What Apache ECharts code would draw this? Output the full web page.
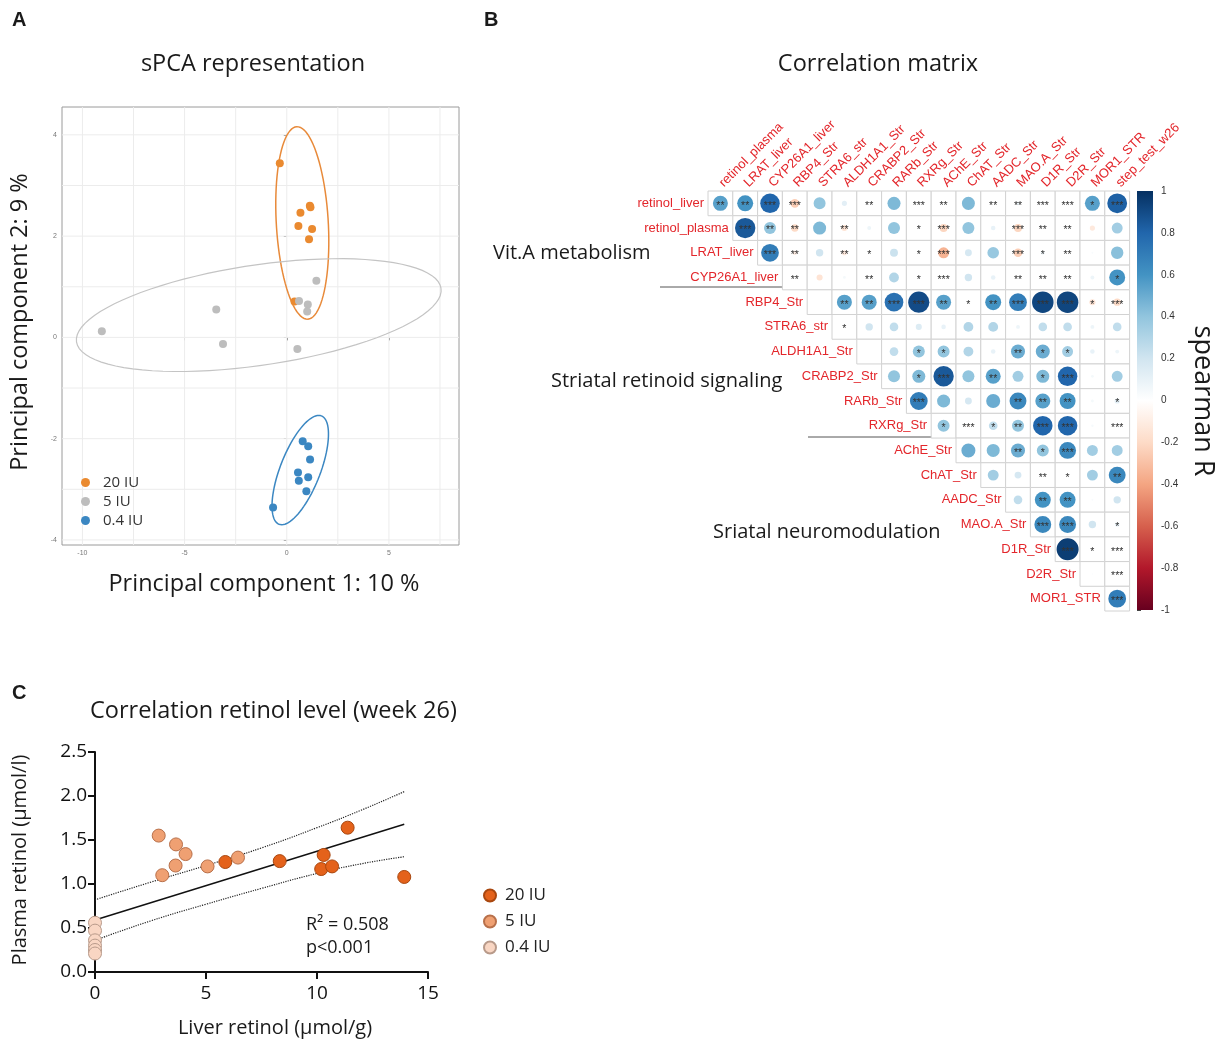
<!DOCTYPE html>
<html>
<head>
<meta charset="utf-8">
<title>sPCA / correlation matrix / retinol</title>
<script src="https://cdn.jsdelivr.net/npm/echarts@6/dist/echarts.min.js"></script>
<style>
  html, body { margin: 0; padding: 0; background: #fff; }
  #chart { width: 1220px; height: 1044px; }
</style>
</head>
<body>
<div id="chart"></div>
<script>
// ---------- panel A : sPCA scores ----------
const pcaHigh = [[-0.34,3.44],[1.13,2.60],[1.16,2.57],[0.67,2.46],[0.57,2.20],[1.24,2.14],[1.09,1.94],[0.38,0.71]];
const pcaMid  = [[1.45,1.12],[0.60,0.72],[1.03,0.65],[1.00,0.51],[-3.45,0.55],[-9.05,0.12],[-3.12,-0.13],[0.52,-0.23]];
const pcaLow  = [[0.78,-2.05],[1.05,-2.15],[1.14,-2.41],[0.55,-2.67],[0.59,-2.83],[1.05,-2.76],[0.96,-3.04],[-0.67,-3.36]];
// confidence ellipses: centre, major and minor semi-axis vectors (data units)
const ellipseCenter = [[0.76,2.26],[-1.37,0.44],[0.66,-2.62]];
const ellipseMajor  = [[0.27,-1.90],[8.92,0.53],[1.04,1.07]];
const ellipseMinor  = [[1.27,0.03],[0.36,-0.98],[0.91,-0.145]];
const pcaGridX  = [-10,-7.5,-5,-2.5,0,2.5,5,7.5];
const pcaGridY  = [-4,-3,-2,-1,0,1,2,3,4];
const pcaTicksX = [-10,-5,0,5];
const pcaTicksY = [-4,-2,0,2,4];

// ---------- panel B : correlation matrix ----------
const rowNames = ['retinol_liver','retinol_plasma','LRAT_liver','CYP26A1_liver','RBP4_Str','STRA6_str','ALDH1A1_Str',
  'CRABP2_Str','RARb_Str','RXRg_Str','AChE_Str','ChAT_Str','AADC_Str','MAO.A_Str','D1R_Str','D2R_Str','MOR1_STR'];
const colNames = ['retinol_plasma','LRAT_liver','CYP26A1_liver','RBP4_Str','STRA6_str','ALDH1A1_Str','CRABP2_Str',
  'RARb_Str','RXRg_Str','AChE_Str','ChAT_Str','AADC_Str','MAO.A_Str','D1R_Str','D2R_Str','MOR1_STR','step_test_w26'];
// row i holds columns i..16
const corrRows = [
  [0.55,0.6,0.8,-0.25,0.4,0.12,0,0.45,0,0,0.45,0,0.08,0,0,0.55,0.82],
  [0.85,0.4,-0.2,0.45,-0.15,0.08,0.4,0,-0.22,0.4,0.1,-0.22,0,0,-0.12,0.35],
  [0.7,-0.1,0.2,-0.12,0,0.22,0,-0.35,0.18,0.38,-0.25,0.08,0,0.03,0.42],
  [0,-0.15,0.05,0,0.3,0,0,0.2,0.1,0,0,0,0.08,0.6],
  [0,0.55,0.55,0.75,0.9,0.55,0,0.6,0.7,0.92,0.92,-0.15,-0.2],
  [0,0.2,0.25,0.15,0.1,0.3,0.3,0.08,0.25,0.25,0.08,0.25],
  [0,0.25,0.4,0.4,0.3,0.1,0.5,0.5,0.35,0.1,0.08],
  [0.4,0.45,0.85,0.4,0.55,0.35,0.45,0.8,0.05,0.35],
  [0.7,0.45,0.18,0.5,0.65,0.55,0.6,0.05,0.12],
  [0.4,-0.05,0.25,0.4,0.8,0.8,0.04,0],
  [0.5,0.45,0.5,0.4,0.65,0.35,0.35],
  [0.35,0.18,0,0,0.35,0.65],
  [0.25,0.6,0.6,0.03,0.2],
  [0.65,0.65,0.2,0.1],
  [0.95,0,0],
  [0.02,0],
  [0.7]
];
// number of significance stars per cell
const starRows = [
  [2,2,3,3,0,0,2,0,3,2,0,2,2,3,3,1,3],
  [3,2,2,0,2,0,0,1,3,0,0,3,2,2,0,0],
  [3,2,0,2,1,0,1,3,0,0,3,1,2,0,0],
  [2,0,0,2,0,1,3,0,0,2,2,2,0,1],
  [0,2,2,3,3,2,1,2,3,3,3,1,3],
  [1,0,0,0,0,0,0,0,0,0,0,0],
  [0,0,1,1,0,0,2,1,1,0,0],
  [0,1,3,0,2,0,1,3,0,0],
  [3,0,0,0,2,2,2,0,1],
  [1,3,1,2,3,3,0,3],
  [0,0,2,1,3,0,0],
  [0,0,2,1,0,2],
  [0,2,2,0,0],
  [3,3,0,1],
  [3,1,3],
  [0,3],
  [3]
];
const rdbu = ['#67001F','#B2182B','#D6604D','#F4A582','#FDDBC7','#FFFFFF','#D1E5F0','#92C5DE','#4393C3','#2166AC','#053061'];

// ---------- panel C : retinol correlation ----------
const retHigh = [[5.87,1.25],[8.32,1.26],[11.38,1.64],[10.3,1.33],[10.19,1.17],[10.68,1.20],[13.93,1.08]];
const retMid  = [[2.87,1.55],[3.03,1.10],[3.65,1.45],[3.63,1.21],[4.08,1.34],[5.07,1.20],[6.44,1.30]];
const retLow  = [[0,0.56],[0,0.47],[0,0.36],[0,0.30],[0,0.25],[0,0.21]];
const fitLine = [[0,0.59],[13.93,1.68]];
const ciUpper = [[0,0.82],[2.5,1.02],[5,1.21],[7.5,1.41],[10,1.64],[12,1.84],[13.93,2.05]];
const ciLower = [[0,0.36],[2.5,0.58],[5,0.77],[7.5,0.95],[10,1.12],[12,1.23],[13.93,1.31]];

const cells = [];
corrRows.forEach((row, i) => row.forEach((v, k) => cells.push([i + k, i, v, starRows[i][k]])));
const pcaGrid = pcaGridX.map(v => [0, v]).concat(pcaGridY.map(v => [1, v]));

const FONT = '"Open Sans", "Noto Sans", sans-serif';
const ARIAL = '"Liberation Sans", Arial, sans-serif';
const labelRed = '#e3262b';

const chart = echarts.init(document.getElementById('chart'));

function txt(text, x, y, size, opts) {
  opts = opts || {};
  return {
    type: 'text', x: x, y: y, rotation: opts.rotation || 0,
    style: {
      text: text, fill: opts.color || '#1a1a1a',
      font: (opts.weight || 'normal') + ' ' + size + 'px ' + (opts.family || FONT),
      textAlign: opts.align || 'left', textVerticalAlign: 'middle'
    }
  };
}

const option = {
  backgroundColor: '#fff',
  animation: false,
  grid: [
    { left: 62, top: 107, width: 397, height: 438, show: true, borderColor: '#9a9a9a', borderWidth: 1, backgroundColor: '#fff' },
    { left: 708, top: 191, width: 421.6, height: 420 },
    { left: 1137, top: 191, width: 16, height: 419 },
    { left: 95, top: 752, width: 333, height: 220 }
  ],
  xAxis: [
    { gridIndex: 0, type: 'value', min: -11, max: 8.43,
      axisLine: { show: false }, splitLine: { show: false },
      axisTick: { customValues: pcaTicksX, length: 3, lineStyle: { color: '#888' } },
      axisLabel: { customValues: pcaTicksX, fontSize: 7, color: '#777', margin: 5, fontFamily: ARIAL } },
    { gridIndex: 1, type: 'value', min: -0.5, max: 16.5, show: false },
    { gridIndex: 2, type: 'value', min: 0, max: 1, show: false },
    { gridIndex: 3, type: 'value', min: 0, max: 15, interval: 5,
      axisLine: { lineStyle: { color: '#111', width: 2 } },
      axisTick: { length: 7, lineStyle: { color: '#111', width: 2 } },
      axisLabel: { fontSize: 19, color: '#111', margin: 12, fontFamily: FONT },
      splitLine: { show: false } }
  ],
  yAxis: [
    { gridIndex: 0, type: 'value', min: -4.1, max: 4.55,
      axisLine: { show: false }, splitLine: { show: false },
      axisTick: { customValues: pcaTicksY, length: 3, lineStyle: { color: '#888' } },
      axisLabel: { customValues: pcaTicksY, fontSize: 7, color: '#777', margin: 5, fontFamily: ARIAL } },
    { gridIndex: 1, type: 'value', min: -0.5, max: 16.5, inverse: true, show: false },
    { gridIndex: 2, type: 'value', min: -1, max: 1, interval: 0.2, position: 'right',
      axisLine: { show: false }, splitLine: { show: false },
      axisTick: { show: true, length: 4, lineStyle: { color: '#444' } },
      axisLabel: { fontSize: 10, color: '#333', margin: 8, fontFamily: ARIAL,
        formatter: v => String(Math.round(v * 10) / 10) } },
    { gridIndex: 3, type: 'value', min: 0, max: 2.5, interval: 0.5,
      axisLine: { show: true, lineStyle: { color: '#111', width: 2 } },
      axisTick: { show: true, length: 7, lineStyle: { color: '#111', width: 2 } },
      axisLabel: { fontSize: 19, color: '#111', margin: 8, fontFamily: FONT, formatter: v => v.toFixed(1) },
      splitLine: { show: false } }
  ],
  visualMap: {
    type: 'continuous', show: false, min: -1, max: 1, dimension: 2, seriesIndex: 5,
    inRange: { color: rdbu }
  },
  legend: [
    { left: 76, top: 470, orient: 'vertical', itemGap: 4, itemWidth: 9, itemHeight: 9, icon: 'circle',
      data: ['20 IU', '5 IU', '0.4 IU'],
      textStyle: { fontSize: 15, color: '#333', fontFamily: FONT, padding: [0, 0, 0, 8] } },
    { left: 478, top: 882, orient: 'vertical', itemGap: 9, itemWidth: 12, itemHeight: 12, icon: 'circle',
      data: ['20 IU (C)', '5 IU (C)', '0.4 IU (C)'],
      formatter: n => n.replace(' (C)', ''),
      textStyle: { fontSize: 17, color: '#222', fontFamily: FONT, padding: [0, 0, 0, 4] } }
  ],
  series: [
    // 0: light panel grid of panel A
    { type: 'custom', xAxisIndex: 0, yAxisIndex: 0, z: 1, silent: true,
      data: pcaGrid, encode: { x: 1 },
      renderItem: function (params, api) {
        const kind = pcaGrid[params.dataIndex][0], v = pcaGrid[params.dataIndex][1];
        const a = kind === 0 ? api.coord([v, -4.1]) : api.coord([-11, v]);
        const b = kind === 0 ? api.coord([v, 4.55]) : api.coord([8.43, v]);
        return { type: 'line', shape: { x1: a[0], y1: a[1], x2: b[0], y2: b[1] },
          style: { stroke: '#ececec', lineWidth: 1 } };
      } },
    // 1: ellipses
    { type: 'custom', xAxisIndex: 0, yAxisIndex: 0, z: 2, silent: true,
      data: ellipseCenter, encode: { x: 0, y: 1 },
      renderItem: function (params, api) {
        const i = params.dataIndex;
        const c = ellipseCenter[i], u = ellipseMajor[i], w = ellipseMinor[i];
        const pts = [];
        for (let k = 0; k <= 90; k++) {
          const t = k / 90 * Math.PI * 2;
          pts.push(api.coord([c[0] + u[0] * Math.cos(t) + w[0] * Math.sin(t),
                              c[1] + u[1] * Math.cos(t) + w[1] * Math.sin(t)]));
        }
        const cols = ['#e88a3a', '#c4c4c4', '#3b87c2'];
        return { type: 'polyline', shape: { points: pts, smooth: 0 },
          style: { fill: null, stroke: cols[i], lineWidth: i === 1 ? 1.2 : 1.5 } };
      } },
    // 2-4: PCA points
    { name: '20 IU', type: 'scatter', xAxisIndex: 0, yAxisIndex: 0, data: pcaHigh, symbolSize: 8, z: 3,
      itemStyle: { color: '#ea8a30', opacity: 1 } },
    { name: '5 IU', type: 'scatter', xAxisIndex: 0, yAxisIndex: 0, data: pcaMid, symbolSize: 8, z: 3,
      itemStyle: { color: '#bdbdbd', opacity: 1 } },
    { name: '0.4 IU', type: 'scatter', xAxisIndex: 0, yAxisIndex: 0, data: pcaLow, symbolSize: 8, z: 3,
      itemStyle: { color: '#3b87c2', opacity: 1 } },
    // 5: correlation cells
    { type: 'custom', xAxisIndex: 1, yAxisIndex: 1, data: cells, encode: { x: 0, y: 1 }, silent: true,
      renderItem: function (params, api) {
        const c = api.value(0), r = api.value(1), v = api.value(2), n = api.value(3);
        const tl = api.coord([c - 0.5, r - 0.5]);
        const sz = api.size([1, 1]);
        const ctr = api.coord([c, r]);
        const rad = sz[0] * 0.46 * Math.pow(Math.abs(v), 0.7);
        const kids = [{ type: 'rect', shape: { x: tl[0], y: tl[1], width: sz[0], height: sz[1] },
          style: { fill: '#fff', stroke: '#d2d2d2', lineWidth: 1 } }];
        if (rad > 0.5) {
          kids.push({ type: 'circle', shape: { cx: ctr[0], cy: ctr[1], r: rad },
            style: { fill: api.visual('color'), stroke: null } });
        }
        if (n > 0) {
          kids.push({ type: 'text', x: ctr[0], y: ctr[1] + 2.5,
            style: { text: '*'.repeat(n), fill: '#333', font: '10.5px ' + ARIAL,
              textAlign: 'center', textVerticalAlign: 'middle' } });
        }
        return { type: 'group', children: kids };
      } },
    // 6: row / column labels of the matrix
    { type: 'custom', xAxisIndex: 1, yAxisIndex: 1, silent: true,
      data: rowNames.map((_, i) => [i, i]), encode: { x: 0, y: 1 },
      renderItem: function (params, api) {
        const i = api.value(0);
        const rp = api.coord([i - 0.5, i]);
        const cp = api.coord([i, -0.5]);
        return { type: 'group', children: [
          { type: 'text', x: rp[0] - 4, y: rp[1],
            style: { text: rowNames[i], fill: labelRed, font: '13px ' + ARIAL,
              textAlign: 'right', textVerticalAlign: 'middle' } },
          { type: 'text', x: cp[0] + 1, y: cp[1] - 6, rotation: Math.PI / 4,
            style: { text: colNames[i], fill: labelRed, font: '13px ' + ARIAL,
              textAlign: 'left', textVerticalAlign: 'middle' } }
        ] };
      } },
    // 7: colour bar
    { type: 'custom', xAxisIndex: 2, yAxisIndex: 2, silent: true, data: [[0, 1]], encode: { x: 0, y: 1 },
      renderItem: function (params, api) {
        const top = api.coord([0, 1]);
        const bot = api.coord([1, -1]);
        const stops = rdbu.slice().reverse().map((col, k) => ({ offset: k / (rdbu.length - 1), color: col }));
        return { type: 'rect', shape: { x: top[0], y: top[1], width: bot[0] - top[0], height: bot[1] - top[1] },
          style: { fill: new echarts.graphic.LinearGradient(0, 0, 0, 1, stops) } };
      } },
    // 8-10: fit with confidence band
    { type: 'line', xAxisIndex: 3, yAxisIndex: 3, data: ciUpper, showSymbol: false, smooth: true, silent: true,
      lineStyle: { color: '#222', width: 1.2, type: 'dotted' } },
    { type: 'line', xAxisIndex: 3, yAxisIndex: 3, data: ciLower, showSymbol: false, smooth: true, silent: true,
      lineStyle: { color: '#222', width: 1.2, type: 'dotted' } },
    { type: 'line', xAxisIndex: 3, yAxisIndex: 3, data: fitLine, showSymbol: false, silent: true,
      lineStyle: { color: '#111', width: 1.5 } },
    // 11-13: retinol points
    { name: '20 IU (C)', type: 'scatter', xAxisIndex: 3, yAxisIndex: 3, data: retHigh, symbolSize: 13, clip: false, z: 4,
      itemStyle: { color: '#e4621b', borderColor: '#a9470f', borderWidth: 1, opacity: 1 } },
    { name: '5 IU (C)', type: 'scatter', xAxisIndex: 3, yAxisIndex: 3, data: retMid, symbolSize: 13, clip: false, z: 4,
      itemStyle: { color: '#efa072', borderColor: '#b8704a', borderWidth: 1, opacity: 1 } },
    { name: '0.4 IU (C)', type: 'scatter', xAxisIndex: 3, yAxisIndex: 3, data: retLow, symbolSize: 13, clip: false, z: 4,
      itemStyle: { color: '#f9d6c3', borderColor: '#b89a8a', borderWidth: 1, opacity: 1 } }
  ],
  graphic: [
    txt('A', 12, 20, 20, { weight: 'bold', family: ARIAL }),
    txt('B', 484, 20, 20, { weight: 'bold', family: ARIAL }),
    txt('C', 12, 693, 20, { weight: 'bold', family: ARIAL }),
    txt('sPCA representation', 253, 64, 23.5, { align: 'center' }),
    txt('Principal component 1: 10 %', 264, 584, 23.5, { align: 'center' }),
    txt('Principal component 2: 9 %', 20, 322, 23.5, { align: 'center', rotation: Math.PI / 2 }),
    txt('Correlation matrix', 878, 64, 23.5, { align: 'center' }),
    txt('Vit.A metabolism', 493, 253, 20),
    txt('Striatal retinoid signaling', 551, 381, 20),
    txt('Sriatal neuromodulation', 713, 532, 20),
    { type: 'line', shape: { x1: 660, y1: 287, x2: 786, y2: 287 }, style: { stroke: '#555', lineWidth: 1 } },
    { type: 'line', shape: { x1: 808, y1: 437, x2: 933, y2: 437 }, style: { stroke: '#555', lineWidth: 1 } },
    txt('spearman R', 1203, 401, 27, { align: 'center', rotation: -Math.PI / 2 }),
    txt('Correlation retinol level (week 26)', 90, 711, 23.5),
    txt('Plasma retinol (µmol/l)', 20, 860, 20, { align: 'center', rotation: Math.PI / 2 }),
    txt('Liver retinol (µmol/g)', 275, 1028, 20, { align: 'center' }),
    txt('R² = 0.508', 306, 925, 18),
    txt('p<0.001', 306, 948, 18)
  ]
};

chart.setOption(option);
</script>
</body>
</html>
